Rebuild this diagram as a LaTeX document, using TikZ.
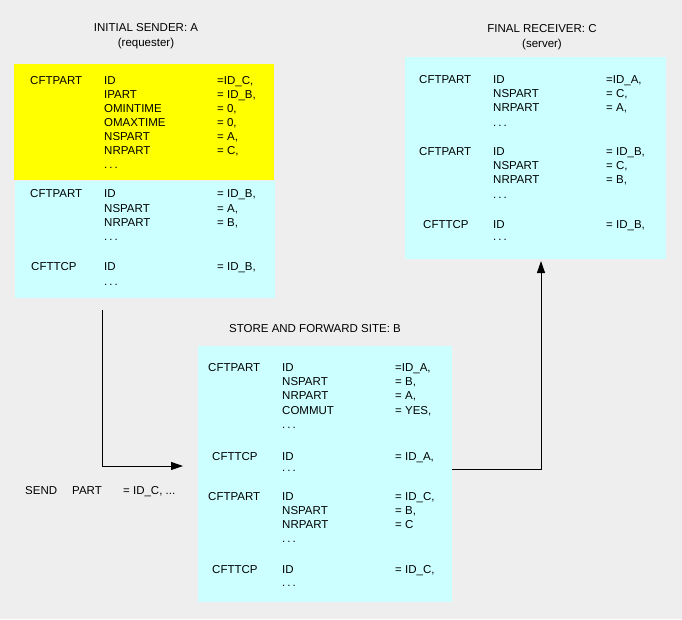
\documentclass[tikz,border=0pt]{standalone}
\usepackage{fontspec}
\setmainfont{Liberation Sans}
\usetikzlibrary{arrows.meta}
\definecolor{bggray}{HTML}{EEEEEE}
\definecolor{reqyellow}{HTML}{FFFF00}
\definecolor{sitecyan}{HTML}{CCFFFF}
\newcommand{\moredots}{.\hspace{2pt}.\hspace{2pt}.}
\begin{document}
\begin{tikzpicture}[x=1pt, y=-1pt,
        box/.style={draw=none, inner sep=0pt, anchor=north west},
        txt/.style={anchor=base west, inner sep=0pt, font=\fontsize{11.5}{13}\selectfont},
        title/.style={anchor=base, inner sep=0pt, font=\fontsize{11.5}{13}\selectfont},
        flow/.style={line width=1pt, -{Triangle[length=12pt, width=8pt]}}
    ]
    % Sfondo
    \fill[bggray] (0,0) rectangle (682,619);
    \useasboundingbox (0,0) rectangle (682,619);

    % Sito A
    \node[title] (titA) at (146,31.5) {INITIAL SENDER: A};
    \node[title] (subA) at (146,46.5) {(requester)};
    \node[box, fill=reqyellow, minimum width=260, minimum height=116] (reqA) at (14,64) {};
    \node[box, fill=sitecyan, minimum width=260, minimum height=117] (cfgA) at (15,181) {};

    \node[txt] at (30,84) {CFTPART};
    \foreach \f/\v [count=\i from 0] in {ID/{=ID\_C,}, IPART/{= ID\_B,}, OMINTIME/{= 0,},
            OMAXTIME/{= 0,}, NSPART/{= A,}, NRPART/{= C,}} {
        \node[txt] at (104,84+14*\i) {\f};
        \node[txt] at (217,84+14*\i) {\v};
    }
    \node[txt] at (104,168) {\moredots};

    \node[txt] at (30,197.5) {CFTPART};
    \node[txt] at (104,197.5) {ID};       \node[txt] at (217,197.5) {= ID\_B,};
    \node[txt] at (104,212) {NSPART};     \node[txt] at (217,212) {= A,};
    \node[txt] at (104,226.5) {NRPART};   \node[txt] at (217,226.5) {= B,};
    \node[txt] at (104,240) {\moredots};
    \node[txt] at (31,270) {CFTTCP};
    \node[txt] at (104,270) {ID};         \node[txt] at (217,270) {= ID\_B,};
    \node[txt] at (104,285) {\moredots};

    % Sito C
    \node[title] (titC) at (542,32.5) {FINAL RECEIVER: C};
    \node[title] (subC) at (542,47.5) {(server)};
    \node[box, fill=sitecyan, minimum width=261, minimum height=202] (boxC) at (405,57) {};

    \node[txt] at (419,83) {CFTPART};
    \node[txt] at (493,83) {ID};          \node[txt] at (606,83) {=ID\_A,};
    \node[txt] at (493,97.5) {NSPART};    \node[txt] at (606,97.5) {= C,};
    \node[txt] at (493,111.5) {NRPART};   \node[txt] at (606,111.5) {= A,};
    \node[txt] at (493,126) {\moredots};
    \node[txt] at (419,155) {CFTPART};
    \node[txt] at (493,155) {ID};         \node[txt] at (606,155) {= ID\_B,};
    \node[txt] at (493,169.5) {NSPART};   \node[txt] at (606,169.5) {= C,};
    \node[txt] at (493,183.5) {NRPART};   \node[txt] at (606,183.5) {= B,};
    \node[txt] at (493,198) {\moredots};
    \node[txt] at (423,228) {CFTTCP};
    \node[txt] at (493,228) {ID};         \node[txt] at (606,228) {= ID\_B,};
    \node[txt] at (493,240) {\moredots};

    % Sito B
    \node[title] (titB) at (315,332.5) {STORE AND FORWARD SITE: B};
    \node[box, fill=sitecyan, minimum width=254, minimum height=256] (boxB) at (198,346) {};

    \node[txt] at (208,371) {CFTPART};
    \node[txt] at (282,371) {ID};         \node[txt] at (395,371) {=ID\_A,};
    \node[txt] at (282,385) {NSPART};     \node[txt] at (395,385) {= B,};
    \node[txt] at (282,399) {NRPART};     \node[txt] at (395,399) {= A,};
    \node[txt] at (282,414) {COMMUT};     \node[txt] at (395,414) {= YES,};
    \node[txt] at (282,428) {\moredots};
    \node[txt] at (212,460) {CFTTCP};
    \node[txt] at (282,460) {ID};         \node[txt] at (395,460) {= ID\_A,};
    \node[txt] at (282,471) {\moredots};
    \node[txt] at (208,500) {CFTPART};
    \node[txt] at (282,500) {ID};         \node[txt] at (395,500) {= ID\_C,};
    \node[txt] at (282,514) {NSPART};     \node[txt] at (395,514) {= B,};
    \node[txt] at (282,528.5) {NRPART};   \node[txt] at (395,528.5) {= C};
    \node[txt] at (282,542) {\moredots};
    \node[txt] at (212,573) {CFTTCP};
    \node[txt] at (282,573) {ID};         \node[txt] at (395,573) {= ID\_C,};
    \node[txt] at (282,586) {\moredots};

    % Comando
    \node[txt] (send) at (25,494) {SEND};
    \node[txt] (part) at (72,494) {PART};
    \node[txt] (partval) at (123,494) {= ID\_C, ...};

    % Frecce
    \coordinate (outA) at (102,310);
    \coordinate (inB) at (183,466);
    \coordinate (outB) at (452,469);
    \coordinate (inC) at (541,261);
    \draw[flow] (outA) |- (inB);
    \draw[flow] (outB) -| (inC);
\end{tikzpicture}
\end{document}
